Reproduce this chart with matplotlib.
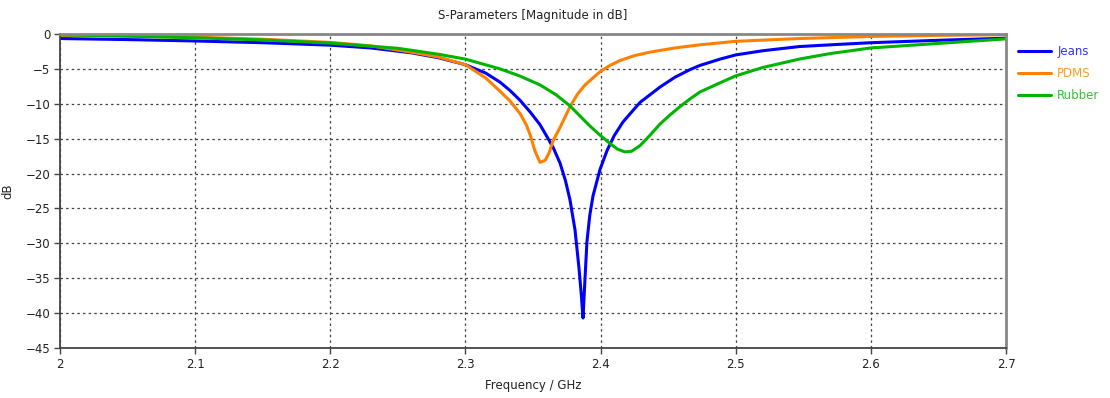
import matplotlib
matplotlib.use("Agg")
import matplotlib.pyplot as plt

# S11 magnitude (dB) versus frequency (GHz) for three substrate materials
jeans_f = [2.00, 2.05, 2.10, 2.15, 2.20, 2.23, 2.26, 2.28, 2.30, 2.315, 2.3256,
           2.333, 2.3404, 2.348, 2.3552, 2.360, 2.365, 2.370, 2.374, 2.3774,
           2.3811, 2.3840, 2.3858, 2.387, 2.3885, 2.3899, 2.392, 2.3944, 2.3996,
           2.4048, 2.410, 2.4166, 2.4292, 2.444, 2.455, 2.4662, 2.4736, 2.4884,
           2.50, 2.52, 2.547, 2.575, 2.60, 2.65, 2.70]
jeans_db = [-0.65, -0.8, -1.0, -1.25, -1.6, -2.0, -2.7, -3.4, -4.4, -5.6, -6.9,
            -8.1, -9.5, -11.2, -13.0, -14.6, -16.3, -18.5, -21.0, -23.8,
            -28.1, -33.5, -37.5, -40.7, -35.0, -29.8, -26.0, -23.2, -19.4,
            -16.7, -14.6, -12.6, -9.8, -7.6, -6.2, -5.1, -4.5, -3.6,
            -3.0, -2.4, -1.8, -1.5, -1.25, -0.9, -0.6]

pdms_f = [2.00, 2.05, 2.10, 2.15, 2.20, 2.23, 2.26, 2.28, 2.30, 2.315, 2.3256,
          2.333, 2.3404, 2.345, 2.3478, 2.3515, 2.3552, 2.3590, 2.3620, 2.3648,
          2.370, 2.3774, 2.383, 2.3885, 2.3996, 2.407, 2.4144, 2.425, 2.4366,
          2.455, 2.4736, 2.50, 2.547, 2.60, 2.65, 2.70]
pdms_db = [-0.2, -0.3, -0.45, -0.75, -1.2, -1.7, -2.6, -3.3, -4.4, -6.3, -8.2,
           -9.6, -11.4, -13.0, -14.4, -16.8, -18.4, -18.1, -17.0, -15.3,
           -13.4, -10.4, -8.6, -7.3, -5.4, -4.5, -3.8, -3.1, -2.6,
           -2.0, -1.55, -1.05, -0.65, -0.35, -0.2, -0.1]

rubber_f = [2.00, 2.05, 2.10, 2.15, 2.20, 2.25, 2.28, 2.30, 2.3256, 2.34, 2.3552,
            2.367, 2.3774, 2.385, 2.3922, 2.3996, 2.407, 2.4125, 2.4181, 2.423,
            2.4292, 2.4366, 2.444, 2.4514, 2.4588, 2.4662, 2.4736, 2.4884, 2.50,
            2.52, 2.547, 2.57, 2.60, 2.65, 2.70]
rubber_db = [-0.1, -0.3, -0.55, -0.85, -1.3, -2.05, -2.9, -3.6, -5.0, -6.0, -7.3,
             -8.7, -10.3, -11.8, -13.2, -14.5, -15.7, -16.5, -16.9, -16.8,
             -16.0, -14.5, -12.9, -11.6, -10.4, -9.3, -8.3, -7.0, -6.0,
             -4.8, -3.6, -2.8, -2.0, -1.35, -0.7]

series_names = ["Jeans", "PDMS", "Rubber"]
series_colors = ["#0000ff", "#ff8000", "#00b400"]
x_ticks = [2.0, 2.1, 2.2, 2.3, 2.4, 2.5, 2.6, 2.7]
x_tick_labels = ["2", "2.1", "2.2", "2.3", "2.4", "2.5", "2.6", "2.7"]
y_ticks = [0, -5, -10, -15, -20, -25, -30, -35, -40, -45]

text_color = "#222222"
plt.rcParams["font.family"] = ["DejaVu Sans"]
plt.rcParams["font.size"] = 8.5

fig = plt.figure(figsize=(11.10, 3.98), dpi=100)
ax = fig.add_axes([60 / 1110, 1 - 348 / 398, 946 / 1110, 314 / 398])

for f, db, name, col in zip([jeans_f, pdms_f, rubber_f],
                            [jeans_db, pdms_db, rubber_db],
                            series_names, series_colors):
    ax.plot(f, db, color=col, lw=2.2, label=name,
            solid_joinstyle="round", solid_capstyle="round")

ax.set_xlim(2.0, 2.7)
ax.set_ylim(-45, 0)
ax.set_xticks(x_ticks)
ax.set_xticklabels(x_tick_labels)
ax.set_yticks(y_ticks)
ax.tick_params(direction="out", length=4, width=1, colors="#444444",
               labelcolor=text_color, labelsize=8.5, pad=3)
ax.grid(True, linestyle=(0, (2, 2.5)), color="#444444", lw=0.9)

for side in ("left", "bottom"):
    ax.spines[side].set_color("#444444")
    ax.spines[side].set_linewidth(1.3)
for side in ("top", "right"):
    ax.spines[side].set_color("#888888")
    ax.spines[side].set_linewidth(2.0)

ax.set_title("S-Parameters [Magnitude in dB]", fontsize=8.5, color=text_color, pad=11)
ax.set_xlabel("Frequency / GHz", fontsize=8.5, color=text_color, labelpad=6)
ax.set_ylabel("dB", fontsize=8.5, color=text_color, labelpad=8)

leg = ax.legend(loc="upper left", bbox_to_anchor=(1.008, 0.98), frameon=False,
                handlelength=2.8, handletextpad=0.5, labelspacing=0.75,
                fontsize=8.5, borderaxespad=0)
for txt, col in zip(leg.get_texts(), series_colors):
    txt.set_color(col)
    txt.set_alpha(0.8)

fig.savefig("out.png", dpi=100)
